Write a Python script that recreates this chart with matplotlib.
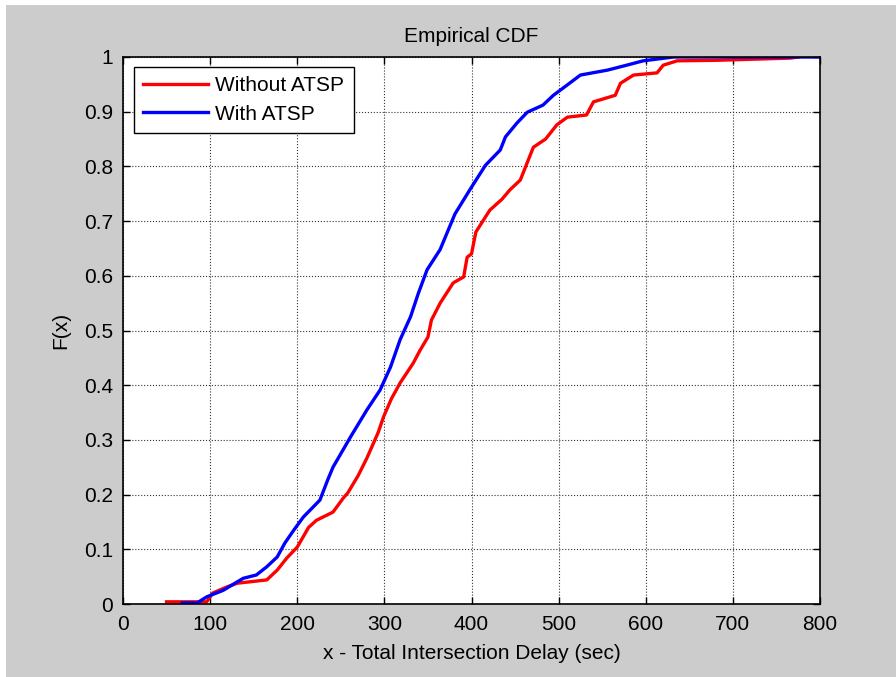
import numpy as np
import matplotlib.pyplot as plt
from matplotlib.patches import Rectangle
from matplotlib.ticker import FuncFormatter

plt.rcParams['font.family'] = ['Liberation Sans', 'DejaVu Sans']

# Without ATSP (red)
x_sin = [50, 96, 103, 119, 131, 165, 177, 188, 200, 213, 222, 241, 253, 258,
         270, 280, 293, 299, 308, 318, 333, 341, 350, 354, 364, 379, 391, 395,
         400, 405, 421, 435, 444, 456, 471, 485, 498, 510, 532, 540, 565, 571,
         586, 613, 620, 636, 682, 766, 775]
F_sin = [0.004, 0.004, 0.02, 0.031, 0.038, 0.044, 0.062, 0.084, 0.104, 0.14,
         0.153, 0.168, 0.194, 0.203, 0.235, 0.267, 0.314, 0.342, 0.375, 0.404,
         0.44, 0.464, 0.488, 0.519, 0.55, 0.587, 0.598, 0.634, 0.64, 0.68,
         0.72, 0.74, 0.757, 0.775, 0.835, 0.85, 0.876, 0.89, 0.894, 0.918,
         0.93, 0.952, 0.967, 0.971, 0.985, 0.993, 0.994, 0.998, 1.0]

# With ATSP (blue)
x_con = [68, 85, 96, 115, 138, 153, 165, 177, 186, 196, 207, 215, 226, 235,
         241, 261, 280, 295, 307, 318, 330, 339, 349, 364, 381, 398, 416, 433,
         439, 452, 464, 482, 494, 510, 525, 556, 578, 597, 632, 800]
F_con = [0.002, 0.002, 0.013, 0.025, 0.047, 0.053, 0.068, 0.086, 0.112, 0.135,
         0.159, 0.172, 0.19, 0.227, 0.25, 0.305, 0.355, 0.391, 0.433, 0.483,
         0.525, 0.568, 0.611, 0.648, 0.713, 0.757, 0.802, 0.83, 0.854, 0.879,
         0.899, 0.912, 0.93, 0.949, 0.967, 0.976, 0.985, 0.993, 1.0, 1.0]

W, H = 896, 677
fig = plt.figure(figsize=(W/100, H/100), dpi=100, facecolor='white')
fondo = Rectangle((6/W, 0), 1 - 6/W, (H - 5)/H, transform=fig.transFigure,
                  facecolor='#cccccc', edgecolor='none')
fondo.set_zorder(-10)
fig.add_artist(fondo)

ax = fig.add_axes([123/W, (H - 604)/H, (820 - 123)/W, (604 - 57)/H])
ax.set_facecolor('white')

ax.plot(x_sin, F_sin, color='#ff0000', lw=2.4, label='Without ATSP')
ax.plot(x_con, F_con, color='#0000ff', lw=2.4, label='With ATSP')

ax.set_xlim(0, 800)
ax.set_ylim(0, 1)
ax.set_xticks(np.arange(0, 801, 100))
ax.set_yticks(np.arange(0, 1.01, 0.1))
ax.yaxis.set_major_formatter(FuncFormatter(lambda v, p: f"{v:.1f}".rstrip('0').rstrip('.') if v else "0"))
ax.tick_params(direction='in', top=True, right=True, length=5, width=1,
               labelsize=15, pad=8)
ax.tick_params(axis='y', pad=7)
ax.grid(True, linestyle=':', color='#333333', lw=0.8)
for s in ax.spines.values():
    s.set_linewidth(1.2)

ax.set_title('Empirical CDF', fontsize=15, pad=11)
ax.set_xlabel('x - Total Intersection Delay (sec)', fontsize=15, labelpad=7)
ax.set_ylabel('F(x)', fontsize=15, labelpad=10)

leg = ax.legend(loc='upper left', bbox_to_anchor=(11/697, 1 - 10/547), fontsize=15,
                fancybox=False, edgecolor='black', framealpha=1,
                handlelength=3.1, handletextpad=0.35, borderpad=0.45,
                labelspacing=0.45, borderaxespad=0)
leg.get_frame().set_linewidth(1.0)

fig.savefig('out.png', dpi=100, facecolor=fig.get_facecolor())
